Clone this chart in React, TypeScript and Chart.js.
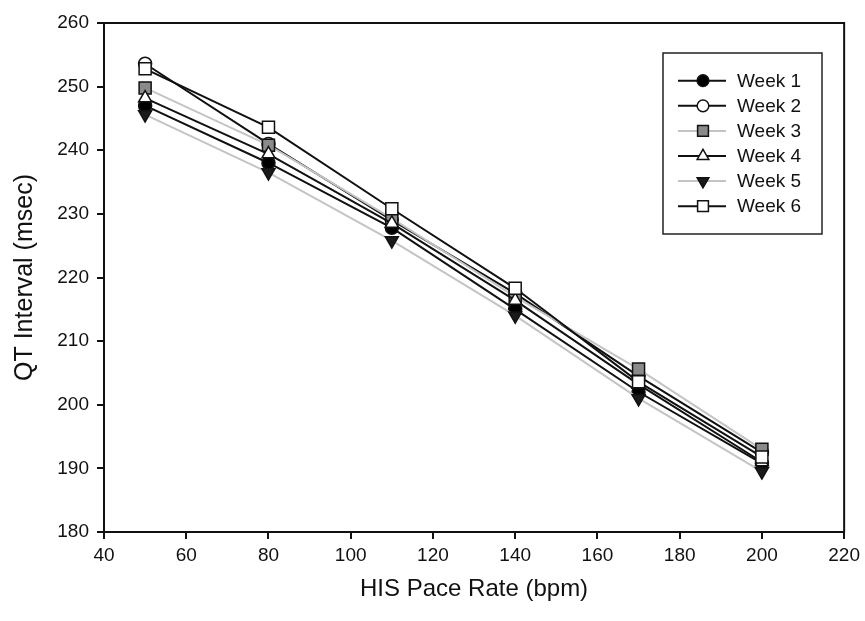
import React, { useEffect, useRef } from "react";
import { Chart, registerables } from "chart.js";

Chart.register(...registerables);

const paceRates = [50, 80, 110, 140, 170, 200];
const seriesNames = ["Week 1", "Week 2", "Week 3", "Week 4", "Week 5", "Week 6"];
const week1 = [247.0, 238.0, 227.8, 215.0, 202.0, 190.8];
const week2 = [253.6, 241.0, 229.0, 217.5, 204.5, 192.5];
const week3 = [249.8, 240.8, 229.3, 217.0, 205.6, 193.0];
const week4 = [248.2, 239.4, 228.5, 216.4, 203.2, 191.0];
const week5 = [245.6, 236.5, 225.8, 214.0, 201.0, 189.5];
const week6 = [252.8, 243.6, 230.8, 218.3, 203.6, 191.8];
const yTicks = [180, 190, 200, 210, 220, 230, 240, 250, 260];
const xTicks = [40, 60, 80, 100, 120, 140, 160, 180, 200, 220];

const FONT = "'Liberation Sans', Arial, Helvetica, sans-serif";

type Style = {
  line: string;
  fill: string;
  point: string;
  radius: number;
  rotation: number;
};

const styles: Style[] = [
  { line: "#111", fill: "#000", point: "circle", radius: 6.5, rotation: 0 },
  { line: "#111", fill: "#fff", point: "circle", radius: 6.5, rotation: 0 },
  { line: "#c4c4c4", fill: "#8a8a8a", point: "rect", radius: 8.5, rotation: 0 },
  { line: "#111", fill: "#fff", point: "triangle", radius: 7.5, rotation: 0 },
  { line: "#c4c4c4", fill: "#1a1a1a", point: "triangle", radius: 7.5, rotation: 180 },
  { line: "#111", fill: "#fff", point: "rect", radius: 8.5, rotation: 0 },
];

const seriesValues = [week1, week2, week3, week4, week5, week6];

function drawMarker(ctx: CanvasRenderingContext2D, s: Style, x: number, y: number, r: number) {
  ctx.beginPath();
  if (s.point === "circle") {
    ctx.arc(x, y, r, 0, Math.PI * 2);
  } else if (s.point === "rect") {
    const h = r * Math.SQRT1_2;
    ctx.rect(x - h, y - h, 2 * h, 2 * h);
  } else {
    const rad = (s.rotation * Math.PI) / 180;
    for (let k = 0; k < 3; k++) {
      const a = rad - Math.PI / 2 + (k * 2 * Math.PI) / 3;
      const px = x + Math.cos(a) * r;
      const py = y + Math.sin(a) * r;
      if (k === 0) ctx.moveTo(px, py);
      else ctx.lineTo(px, py);
    }
    ctx.closePath();
  }
  ctx.fill();
  ctx.stroke();
}

const frameAndLegend = {
  id: "frameAndLegend",
  afterDraw(chart: any) {
    const { ctx, chartArea } = chart;
    ctx.save();
    ctx.strokeStyle = "#111";
    ctx.lineWidth = 2;
    ctx.beginPath();
    ctx.moveTo(chartArea.left, chartArea.top);
    ctx.lineTo(chartArea.right, chartArea.top);
    ctx.lineTo(chartArea.right, chartArea.bottom);
    ctx.stroke();

    const bx = 663, by = 53, bw = 159, bh = 181;
    ctx.fillStyle = "#fff";
    ctx.fillRect(bx, by, bw, bh);
    ctx.lineWidth = 1.5;
    ctx.strokeStyle = "#222";
    ctx.strokeRect(bx, by, bw, bh);
    ctx.font = `19px ${FONT}`;
    ctx.textBaseline = "middle";
    ctx.textAlign = "left";
    seriesNames.forEach((name, i) => {
      const s = styles[i];
      const y = 80.7 + i * 25.1;
      ctx.strokeStyle = s.line;
      ctx.lineWidth = 2;
      ctx.beginPath();
      ctx.moveTo(678, y);
      ctx.lineTo(726, y);
      ctx.stroke();
      ctx.fillStyle = s.fill;
      ctx.strokeStyle = "#111";
      ctx.lineWidth = 1.5;
      drawMarker(ctx, s, 703, y, s.radius * 0.9);
      ctx.fillStyle = "#111";
      ctx.fillText(name, 737, y + 1);
    });
    ctx.restore();
  },
};

export default function App() {
  const ref = useRef<HTMLCanvasElement>(null);

  useEffect(() => {
    if (!ref.current) return;
    const datasets = seriesNames.map((name, i) => ({
      label: name,
      data: paceRates.map((x, j) => ({ x, y: seriesValues[i][j] })),
      borderColor: styles[i].line,
      borderWidth: 2,
      backgroundColor: styles[i].fill,
      pointBackgroundColor: styles[i].fill,
      pointBorderColor: "#111",
      pointBorderWidth: 1.5,
      pointStyle: styles[i].point as any,
      pointRadius: styles[i].radius,
      pointRotation: styles[i].rotation,
      tension: 0,
      order: 5 - i,
    }));

    const chart = new Chart(ref.current, {
      type: "line",
      data: { datasets },
      plugins: [frameAndLegend],
      options: {
        animation: false,
        responsive: false,
        maintainAspectRatio: false,
        layout: { padding: { top: 23, right: 18, left: 0, bottom: 0 } },
        plugins: { legend: { display: false }, tooltip: { enabled: false } },
        scales: {
          x: {
            type: "linear",
            min: 40,
            max: 220,
            afterBuildTicks: (axis: any) => {
              axis.ticks = xTicks.map((v) => ({ value: v }));
            },
            afterFit: (axis: any) => {
              axis.height = 89;
            },
            ticks: {
              color: "#111",
              font: { family: FONT, size: 19 },
              padding: 5,
              maxRotation: 0,
              autoSkip: false,
            },
            grid: {
              drawOnChartArea: false,
              drawTicks: true,
              tickLength: 7,
              color: "#111",
              lineWidth: 2,
            },
            border: { display: true, color: "#111", width: 2 },
            title: {
              display: true,
              text: "HIS Pace Rate (bpm)",
              color: "#111",
              font: { family: FONT, size: 24 },
              padding: { top: 0, bottom: 17 },
            },
          },
          y: {
            type: "linear",
            min: 180,
            max: 260,
            afterBuildTicks: (axis: any) => {
              axis.ticks = yTicks.map((v) => ({ value: v }));
            },
            afterFit: (axis: any) => {
              axis.width = 104;
            },
            ticks: {
              color: "#111",
              font: { family: FONT, size: 19 },
              padding: 8,
              autoSkip: false,
            },
            grid: {
              drawOnChartArea: false,
              drawTicks: true,
              tickLength: 7,
              color: "#111",
              lineWidth: 2,
            },
            border: { display: true, color: "#111", width: 2 },
            title: {
              display: true,
              text: "QT Interval (msec)",
              color: "#111",
              font: { family: FONT, size: 25 },
              padding: { top: 10, bottom: 0 },
            },
          },
        },
      },
    });
    return () => chart.destroy();
  }, []);

  return (
    <div style={{ position: "fixed", left: 0, top: 0, width: 865, height: 621, background: "#fff" }}>
      <canvas ref={ref} width={865} height={621} style={{ width: 865, height: 621, display: "block" }} />
    </div>
  );
}
